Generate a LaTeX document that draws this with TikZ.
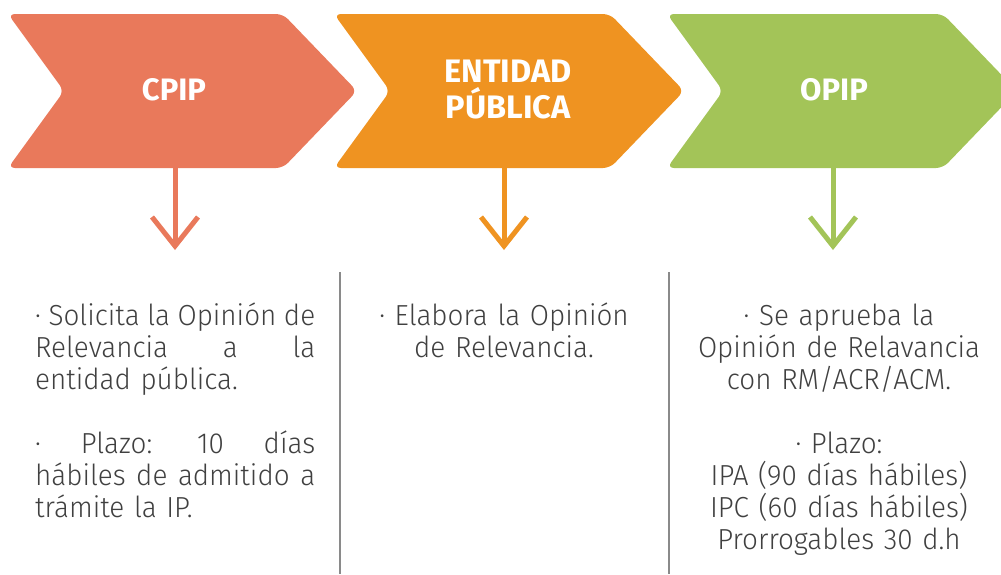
\documentclass[tikz,border=0pt]{standalone}
\usepackage{fontspec}
\usetikzlibrary{calc}
\setmainfont{Fira Sans}
\newfontfamily\bodyfont[FakeStretch=0.96]{Fira Sans Light}
\definecolor{cpipc}{HTML}{E9795B}
\definecolor{entc}{HTML}{EF9321}
\definecolor{opipc}{HTML}{A3C458}
\definecolor{txtc}{HTML}{404040}
\definecolor{sepc}{HTML}{8A8A8A}
\tikzset{
  chev/.style={rounded corners=7pt},
  ttl/.style={text=white, font=\bfseries\fontsize{31}{36}\selectfont, inner sep=0pt},
  body/.style={text=txtc, font=\bodyfont\fontsize{29}{32}\selectfont, inner sep=0pt, text width=#1},
  downarr/.style={line width=5pt, line join=miter},
  sepline/.style={draw=sepc, line width=1.2pt}
}
\begin{document}
\begin{tikzpicture}[x=1pt,y=-1pt]
\useasboundingbox (0,0) rectangle (1001,574);
% chevrons
\fill[chev, cpipc] (8,14) -- (64,91) -- (8,168) -- (283,168) -- (357,91) -- (283,14) -- cycle;
\fill[chev, entc] (334,14) -- (390,91) -- (334,168) -- (610,168) -- (684,91) -- (610,14) -- cycle;
\fill[chev, opipc] (667,14) -- (723,91) -- (667,168) -- (943,168) -- (1017,91) -- (943,14) -- cycle;
% titles
\node[ttl, anchor=base] (t1) at (174,100) {CPIP};
\node[ttl, anchor=base, align=center, text width=250pt, font=\bfseries\fontsize{32.5}{36}\selectfont] (t2) at (508,82) {ENTIDAD\\PÚBLICA};
\node[ttl, anchor=base] (t3) at (834,100) {OPIP};
% arrows
\coordinate (s1) at (175,168); \coordinate (e1) at (175,246);
\coordinate (s2) at (504,168); \coordinate (e2) at (504,246);
\coordinate (s3) at (833,168); \coordinate (e3) at (833,246);
\draw[downarr, cpipc] (s1) -- (e1);
\draw[downarr, cpipc] ($(e1)+(-23,-29)$) -- (e1) -- ($(e1)+(23,-29)$);
\draw[downarr, entc] (s2) -- (e2);
\draw[downarr, entc] ($(e2)+(-23,-29)$) -- (e2) -- ($(e2)+(23,-29)$);
\draw[downarr, opipc] (s3) -- (e3);
\draw[downarr, opipc] ($(e3)+(-23,-29)$) -- (e3) -- ($(e3)+(23,-29)$);
% separators
\coordinate (v1a) at (340,272); \coordinate (v1b) at (340,574);
\coordinate (v2a) at (669,272); \coordinate (v2b) at (669,574);
\draw[sepline] (v1a) -- (v1b);
\draw[sepline] (v2a) -- (v2b);
% texts
\node[body=280pt, anchor=base west, align=left] (b1) at (35,325) {%
\makebox[280pt][s]{·\hfill Solicita\hfill la\hfill Opinión\hfill de}\\
\makebox[280pt][s]{Relevancia \hfill a \hfill la}\\
entidad pública.\\[32pt]
\makebox[280pt][s]{· \hfill Plazo: \hfill 10 \hfill días}\\
\makebox[280pt][s]{hábiles\hfill de\hfill admitido\hfill a}\\
trámite la IP.};
\node[body=300pt, anchor=base, align=center] (b2) at (504,325) {%
· Elabora la Opinión\\
de Relevancia.};
\node[body=320pt, anchor=base, align=center] (b3) at (839,325) {%
· Se aprueba la\\
Opinión de Relavancia\\
con RM/ACR/ACM.\\[32pt]
· Plazo:\\
IPA (90 días hábiles)\\
IPC (60 días hábiles)\\
Prorrogables 30 d.h};
\end{tikzpicture}
\end{document}
